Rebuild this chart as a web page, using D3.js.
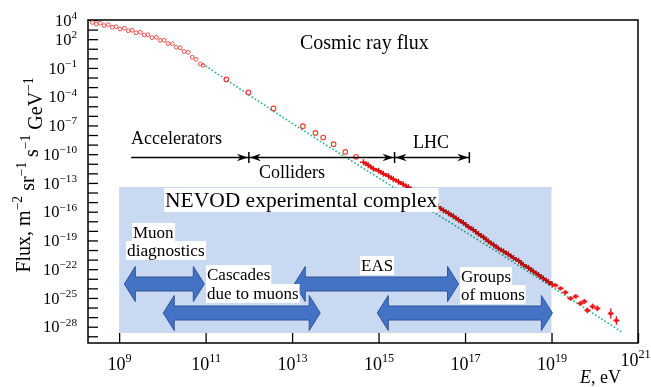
<!DOCTYPE html>
<html>
<head>
<meta charset="utf-8">
<script src="https://cdn.jsdelivr.net/npm/d3@7"></script>
<style>
body { margin: 0; background: #fff; }
svg { display: block; font-family: "Liberation Serif", "Times New Roman", serif; }
</style>
</head>
<body>
<script>
// all values are log10: energy in eV, flux in m^-2 sr^-1 s^-1 GeV^-1

// low energy measurements (dense wavy band)
var lowE = [8.38, 8.47, 8.56, 8.65, 8.75, 8.84, 8.93, 9.02, 9.12, 9.21, 9.30, 9.39, 9.49, 9.58, 9.67,
            9.76, 9.86, 9.95, 10.04, 10.13, 10.23, 10.32, 10.41, 10.50, 10.60, 10.69, 10.78, 10.88, 10.94];
var lowF = [3.74, 3.58, 3.66, 3.42, 3.51, 3.24, 3.30, 3.06, 3.14, 2.88, 2.93, 2.67, 2.72, 2.44, 2.46,
            2.16, 2.20, 1.88, 1.89, 1.55, 1.52, 1.15, 1.10, 0.71, 0.63, 0.11, -0.10, -0.57, -0.73];

// sparse points
var midE = [11.48, 11.99, 12.57, 13.25, 13.54, 13.72, 13.96, 14.23, 14.48];
var midF = [-2.20, -3.56, -5.23, -7.08, -7.78, -8.26, -8.96, -9.76, -10.28];

// dense band (air shower data)
var bandE = [14.65, 14.76, 14.88, 15.00, 15.11, 15.23, 15.34, 15.46, 15.57, 15.69, 15.81, 15.92, 16.04,
             16.15, 16.27, 16.38, 16.50, 16.62, 16.73, 16.85, 16.96, 17.08, 17.19, 17.31, 17.43, 17.54,
             17.66, 17.77, 17.89, 18.00, 18.12, 18.24, 18.35, 18.47, 18.58, 18.70, 18.81, 18.93, 19.02];
var bandF = [-10.84, -11.15, -11.52, -11.73, -12.04, -12.30, -12.61, -12.88, -13.14, -13.45, -13.82, -14.13, -14.50,
             -14.86, -15.17, -15.49, -15.85, -16.17, -16.48, -16.85, -17.16, -17.58, -17.89, -18.31, -18.68, -19.09,
             -19.46, -19.82, -20.14, -20.45, -20.82, -21.13, -21.55, -21.86, -22.23, -22.59, -22.96, -23.33, -23.59];

// highest energies, with error bars
var tailE = [19.09, 19.21, 19.32, 19.44, 19.56, 19.67, 19.76, 19.83, 19.95, 20.06, 20.37, 20.50];
var tailF = [-23.69, -24.00, -24.42, -25.05, -24.84, -25.57, -25.36, -26.30, -25.89, -26.09, -26.62, -27.35];
var tailErr = [0.15, 0.15, 0.2, 0.2, 0.2, 0.25, 0.25, 0.3, 0.3, 0.3, 0.55, 0.45];

// green dotted model curve
var fitE = [10.94, 12.96, 15.20, 18.05, 20.64];
var fitF = [-0.60, -6.66, -13.03, -21.08, -28.60];

var xTickExp = [9, 11, 13, 15, 17, 19, 21];
var yLabelExp = [4, 2, -1, -4, -7, -10, -13, -16, -19, -22, -25, -28];

// accelerator energy ranges
var scaleNames = ["Accelerators", "Colliders", "LHC"];
var scaleRanges = [[9.28, 12.0], [12.0, 15.37], [15.37, 17.1]];

// NEVOD box and its methods
var nevodRange = [9, 19];
var methodNames = [["Muon", "diagnostics"], ["Cascades", "due to muons"], ["EAS"], ["Groups", "of muons"]];
var methodRanges = [[9.12, 10.97], [10.02, 13.65], [13.05, 16.85], [14.97, 19.02]];
var methodRows = [0, 1, 0, 1];

var W = 651, H = 387;
var plotL = 88, plotR = 638, plotT = 20, plotB = 343;

function p10(v) { return Math.pow(10, v); }

var x = d3.scaleLog().domain([p10(8.28), p10(21)]).range([plotL, plotR]);
var y = d3.scaleLog().domain([p10(-29.7), p10(4)]).range([plotB, plotT]);

var svg = d3.select("body").append("svg")
    .attr("width", W)
    .attr("height", H);

function supLabel(sel, exp) {
    sel.text("");
    sel.append("tspan").text("10");
    sel.append("tspan").attr("dy", "-0.6em").attr("font-size", "0.68em")
        .text(exp < 0 ? "\u2212" + (-exp) : exp);
}

// axes
var yAxis = d3.axisLeft(y)
    .tickValues(d3.range(-29, 5).map(p10))
    .tickSizeInner(-10).tickSizeOuter(0).tickPadding(11)
    .tickFormat("");
var gy = svg.append("g").attr("transform", "translate(" + plotL + ",0)").call(yAxis)
    .attr("font-family", null).attr("font-size", 16.5);
gy.select(".domain").remove();
gy.selectAll(".tick line").attr("stroke", "#000").attr("stroke-width", 1.3);
gy.selectAll(".tick text").attr("fill", "#000").each(function(d) {
    var e = Math.round(Math.log10(d));
    if (yLabelExp.indexOf(e) >= 0) supLabel(d3.select(this), e);
});

var xAxis = d3.axisBottom(x)
    .tickValues(xTickExp.map(p10))
    .tickSizeInner(-10).tickSizeOuter(0).tickPadding(14)
    .tickFormat("");
var gx = svg.append("g").attr("transform", "translate(0," + plotB + ")").call(xAxis)
    .attr("font-family", null).attr("font-size", 18);
gx.select(".domain").remove();
gx.selectAll(".tick line").attr("stroke", "#000").attr("stroke-width", 1.3);
gx.selectAll(".tick text").attr("fill", "#000").each(function(d) {
    var e = Math.round(Math.log10(d));
    supLabel(d3.select(this), e);
    if (e == 21) d3.select(this).attr("x", -3).attr("y", 10);
});

svg.append("rect")
    .attr("x", plotL).attr("y", plotT)
    .attr("width", plotR - plotL).attr("height", plotB - plotT)
    .attr("fill", "none").attr("stroke", "#000").attr("stroke-width", 1.5);

// axis titles
var yt = svg.append("text")
    .attr("transform", "translate(30," + 175 + ") rotate(-90)")
    .attr("text-anchor", "middle")
    .attr("font-size", 20);
[["Flux, m", "\u22122"], [" sr", "\u22121"], [" s", "\u22121"], [" GeV", "\u22121"]].forEach(function(p) {
    yt.append("tspan").attr("dy", "0.6em").text(p[0]);
    yt.append("tspan").attr("dy", "-0.6em").attr("font-size", "0.68em").text(p[1]);
});
yt.select("tspan").attr("dy", 0);

var xt = svg.append("text").attr("x", 580).attr("y", 383).attr("font-size", 18);
xt.append("tspan").attr("font-style", "italic").text("E");
xt.append("tspan").text(", eV");

// data
var fitPts = fitE.map(function(e, i) { return [e, fitF[i]]; });
svg.append("path")
    .datum(fitPts)
    .attr("d", d3.line()
        .x(function(d) { return x(p10(d[0])); })
        .y(function(d) { return y(p10(d[1])); })
        .curve(d3.curveMonotoneX))
    .attr("fill", "none")
    .attr("stroke", "#2db38a")
    .attr("stroke-width", 1.8)
    .attr("stroke-linecap", "round")
    .attr("stroke-dasharray", "0.1,3.6");

svg.append("g").selectAll("circle")
    .data(lowE)
    .enter().append("circle")
    .attr("cx", function(d) { return x(p10(d)); })
    .attr("cy", function(d, i) { return y(p10(lowF[i])); })
    .attr("r", 1.9)
    .attr("fill", "none")
    .attr("stroke", "#f2504a")
    .attr("stroke-width", 1);

svg.append("g").selectAll("circle")
    .data(midE)
    .enter().append("circle")
    .attr("cx", function(d) { return x(p10(d)); })
    .attr("cy", function(d, i) { return y(p10(midF[i])); })
    .attr("r", 2.3)
    .attr("fill", "none")
    .attr("stroke", "#ee3a34")
    .attr("stroke-width", 1.1);

var bandPts = bandE.map(function(e, i) { return [e, bandF[i]]; });
svg.append("path")
    .datum(bandPts)
    .attr("d", d3.line()
        .x(function(d) { return x(p10(d[0])); })
        .y(function(d) { return y(p10(d[1])); }))
    .attr("fill", "none")
    .attr("stroke", "#e01010")
    .attr("stroke-width", 2.6);

var band = svg.append("g").attr("stroke", "#e81414");
bandE.forEach(function(e, i) {
    var cx = x(p10(e)), cy = y(p10(bandF[i]));
    band.append("line").attr("x1", cx - 3.5).attr("x2", cx + 3.5).attr("y1", cy).attr("y2", cy).attr("stroke-width", 1.6);
    band.append("line").attr("x1", cx).attr("x2", cx).attr("y1", cy - 3).attr("y2", cy + 3).attr("stroke-width", 1.4);
});

var tail = svg.append("g").attr("stroke", "#f01515");
tailE.forEach(function(e, i) {
    var cx = x(p10(e)), cy = y(p10(tailF[i]));
    tail.append("line").attr("x1", cx).attr("x2", cx)
        .attr("y1", y(p10(tailF[i] + tailErr[i]))).attr("y2", y(p10(tailF[i] - tailErr[i])))
        .attr("stroke-width", 1.3);
    tail.append("line").attr("x1", cx - 3).attr("x2", cx + 3).attr("y1", cy).attr("y2", cy).attr("stroke-width", 1.6);
    tail.append("circle").attr("cx", cx).attr("cy", cy).attr("r", 1.7).attr("fill", "none").attr("stroke-width", 1);
});

// NEVOD box over the data (multiply so the data shows through darker)
svg.append("rect")
    .attr("x", x(p10(nevodRange[0])))
    .attr("y", 187)
    .attr("width", x(p10(nevodRange[1])) - x(p10(nevodRange[0])))
    .attr("height", 333 - 187)
    .attr("fill", "#c8d9f1")
    .style("mix-blend-mode", "multiply");

// white-backed labels
function boxLabel(txt, lx, ly, size, anchor) {
    var g = svg.append("g");
    var t = g.append("text").attr("x", lx).attr("y", ly).attr("font-size", size)
        .attr("text-anchor", anchor || "start").text(txt);
    var b = t.node().getBBox();
    g.insert("rect", "text").attr("x", b.x - 1).attr("y", b.y).attr("width", b.width + 2)
        .attr("height", b.height).attr("fill", "#fff");
}

// block arrows
var rowY = [plotB - 59, plotB - 30];
function blockArrow(x0, x1, yc) {
    var h = 7, hh = 17.5, L = 11;
    var pts = [[x0, yc], [x0 + L, yc - hh], [x0 + L, yc - h], [x1 - L, yc - h], [x1 - L, yc - hh], [x1, yc],
               [x1 - L, yc + hh], [x1 - L, yc + h], [x0 + L, yc + h], [x0 + L, yc + hh]];
    svg.append("path").attr("d", "M" + pts.join("L") + "Z")
        .attr("fill", "#4472c4").attr("stroke", "#2f5597").attr("stroke-width", 1);
}
methodRanges.forEach(function(r, i) {
    blockArrow(x(p10(r[0])), x(p10(r[1])), rowY[methodRows[i]]);
});

boxLabel("NEVOD experimental complex", 165, 207, 21.5);
boxLabel(methodNames[0][0], 133, 238, 17);
boxLabel(methodNames[0][1], 127, 256, 17.3);
boxLabel(methodNames[1][0], 207, 280, 17);
boxLabel(methodNames[1][1], 207, 299, 17);
boxLabel(methodNames[2][0], 361, 271, 17);
boxLabel(methodNames[3][0], 461, 282, 17);
boxLabel(methodNames[3][1], 461, 300, 17);

// accelerator scale
var sy = 157.5;
function head(xb, dir) {
    svg.append("path")
        .attr("d", "M" + xb + "," + sy + "L" + (xb - dir * 11) + "," + (sy - 3.8) +
             "L" + (xb - dir * 7.5) + "," + sy + "L" + (xb - dir * 11) + "," + (sy + 3.8) + "Z")
        .attr("fill", "#000");
}
scaleRanges.forEach(function(r, i) {
    var a = x(p10(r[0])), b = x(p10(r[1]));
    svg.append("line").attr("x1", a).attr("x2", b).attr("y1", sy).attr("y2", sy)
        .attr("stroke", "#000").attr("stroke-width", 1.5);
    if (i > 0) head(a + 1, -1);
    head(b - 1, 1);
    svg.append("line").attr("x1", b).attr("x2", b).attr("y1", sy - 5.5).attr("y2", sy + 5.5)
        .attr("stroke", "#000").attr("stroke-width", 1.5);
});
svg.append("text").attr("x", 131).attr("y", 144).attr("font-size", 18).text(scaleNames[0]);
svg.append("text").attr("x", 292).attr("y", 178).attr("font-size", 18).attr("text-anchor", "middle").text(scaleNames[1]);
svg.append("text").attr("x", 413).attr("y", 148).attr("font-size", 18).text(scaleNames[2]);

svg.append("text").attr("x", 300).attr("y", 49).attr("font-size", 20).text("Cosmic ray flux");
</script>
</body>
</html>
